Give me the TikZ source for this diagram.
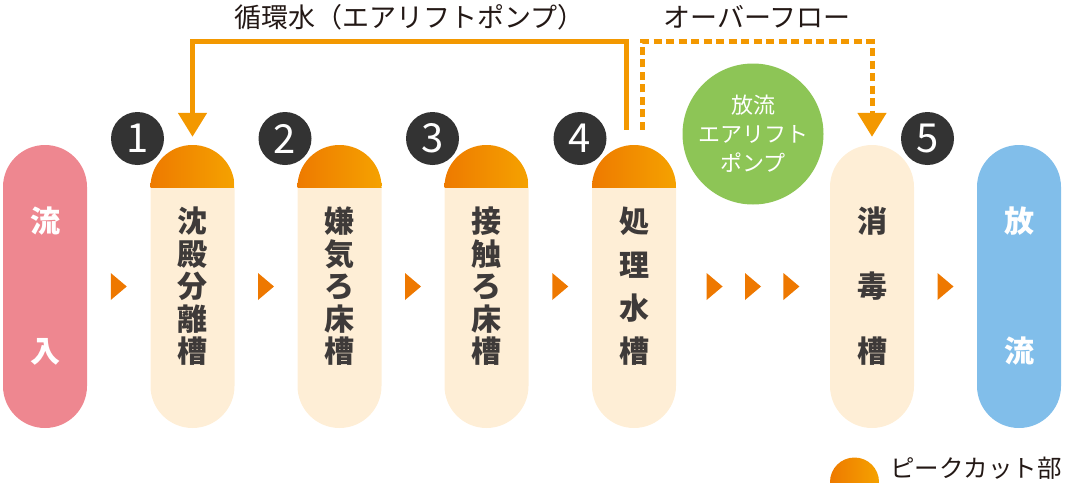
\documentclass[tikz,border=0pt]{standalone}
\usepackage{fontspec}
\setmainfont{Noto Sans CJK JP}
\usetikzlibrary{arrows.meta,calc}
\definecolor{pinkc}{HTML}{EE8790}
\definecolor{bluec}{HTML}{81BEEA}
\definecolor{creamc}{HTML}{FEEED6}
\definecolor{greenc}{HTML}{8DC556}
\definecolor{darkc}{HTML}{333333}
\definecolor{textc}{HTML}{3E3A39}
\definecolor{labelc}{HTML}{231815}
\definecolor{linec}{HTML}{F39800}
\definecolor{tric}{HTML}{EE7800}
\definecolor{domeL}{HTML}{EE7A00}
\definecolor{domeR}{HTML}{F5A200}
\tikzset{
  column/.style={rectangle, rounded corners=42pt, minimum width=84pt, minimum height=283pt,
    inner sep=0pt, align=center, font=\fontsize{30}{#1}\selectfont\bfseries},
  endbox/.style={column=#1, text=white},
  plaintank/.style={column=#1, fill=creamc, text=textc},
  tankbox/.style={plaintank=#1,
    path picture={\shade[sharp corners, left color=domeL, right color=domeR]
      (path picture bounding box.north west) rectangle
      ([yshift=-42pt]path picture bounding box.north east);}},
  numdot/.style={circle, fill=darkc, minimum size=53pt, inner sep=0pt, text=white,
    font=\fontsize{40}{40}\selectfont},
  flow/.style={draw=linec, line width=5pt, -{Triangle[width=28pt,length=24pt]}},
  toplabel/.style={text=labelc, font=\fontsize{27}{27}\selectfont, inner sep=0pt},
  tri/.style={fill=tric},
}
\begin{document}
\begin{tikzpicture}[x=1pt,y=-1pt]
\useasboundingbox (0,0) rectangle (1065,485);
% columns
\node[endbox=130, fill=pinkc] (in) at (45,286.5) {流\\入};
\node[tankbox=32.5] (t1) at (192.5,286.5) {沈\\殿\\分\\離\\槽};
\node[tankbox=32.5] (t2) at (339.5,286.5) {嫌\\気\\ろ\\床\\槽};
\node[tankbox=32.5] (t3) at (486.5,286.5) {接\\触\\ろ\\床\\槽};
\node[tankbox=43.3] (t4) at (634,286.5) {処\\理\\水\\槽};
\node[plaintank=65] (t5) at (872,286.5) {消\\毒\\槽};
\node[endbox=130, fill=bluec] (out) at (1019,286.5) {放\\流};
% numbers
\node[numdot] (n1) at (137.5,138.5) {1};
\node[numdot] (n2) at (285,138.5) {2};
\node[numdot] (n3) at (432.5,138.5) {3};
\node[numdot] (n4) at (580,138.5) {4};
\node[numdot] (n5) at (927.5,138.5) {5};
% pump
\node[circle, fill=greenc, minimum size=141pt, inner sep=0pt, text=white, align=center,
  font=\fontsize{22}{29}\selectfont] (pump) at (753,134) {放流\\エアリフト\\ポンプ};
% small arrows
\foreach \a/\b/\f in {in/t1/0.5, t1/t2/0.5, t2/t3/0.5, t3/t4/0.5, t4/t5/0.25, t4/t5/0.5, t4/t5/0.75, t5/out/0.5}{
  \coordinate (m) at ($(\a.east)!\f!(\b.west)$);
  \fill[tri] ([shift={(-8,0)}]m) ++(0,-13.5) -- ++(16,13.5) -- ++(-16,13.5) -- cycle;
}
% return flow
\coordinate (s4) at ([xshift=-8pt,yshift=15pt]t4.north);
\coordinate (e1) at ([yshift=8pt]t1.north);
\draw[flow] (s4) -- (s4 |- 0,41.5) -- (e1 |- 0,41.5) -- (e1);
\node[toplabel] (lab1) at ($(s4 |- 0,17)!0.5!(e1 |- 0,17)$) {循環水（エアリフトポンプ）};
% overflow
\coordinate (o4) at ([xshift=8pt,yshift=15pt]t4.north);
\coordinate (e5) at ([yshift=8pt]t5.north);
\draw[flow, dash pattern=on 8pt off 4.5pt] (o4) -- (o4 |- 0,41.5) -- (e5 |- 0,41.5) -- (e5);
\node[toplabel] (lab2) at ($(o4 |- 0,17)!0.5!(e5 |- 0,17)$) {オーバーフロー};
% legend
\coordinate (lg) at (854.5,482);
\begin{scope}
\clip ([xshift=-25pt]lg) rectangle ([xshift=25pt,yshift=26pt]lg);
\shade[left color=domeL, right color=domeR] (lg) circle[radius=24.5pt];
\end{scope}
\node[toplabel, anchor=west, font=\fontsize{24.5}{24.5}\selectfont] (lgt) at (890,468) {ピークカット部};
\end{tikzpicture}
\end{document}
